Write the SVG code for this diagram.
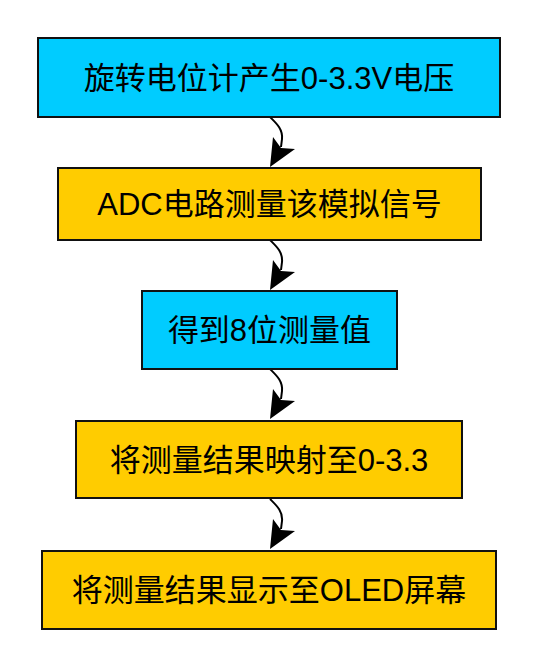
<svg xmlns="http://www.w3.org/2000/svg" width="540" height="669" viewBox="0 0 540 669">
<style>
.box{stroke:#111;stroke-width:2}
.cyan{fill:#00CCFF}
.orange{fill:#FFCC00}
.lbl{font-family:"Liberation Sans","Noto Sans CJK SC",sans-serif;font-size:31px;fill:#000;text-anchor:middle}
.wire{fill:none;stroke:#000;stroke-width:2}
.head{fill:#000}
</style>
<defs>
<g id="arrow">
<path class="wire" d="M0,0 C6,6 13,12 12,22 L11,30"/>
<polygon class="head" points="0,50 3,20 11,31 25,32"/>
</g>
</defs>
<rect width="540" height="669" fill="#fff"/>
<g id="connectors">
<use href="#arrow" x="270" y="117"/>
<use href="#arrow" x="270" y="240"/>
<use href="#arrow" x="270" y="369"/>
<use href="#arrow" x="270" y="499"/>
</g>
<g id="n1"><rect class="box cyan" x="38" y="38" width="462" height="79"/><text class="lbl" x="269" y="88.5">旋转电位计产生0-3.3V电压</text></g>
<g id="n2"><rect class="box orange" x="58" y="168" width="423" height="72"/><text class="lbl" x="269.5" y="215">ADC电路测量该模拟信号</text></g>
<g id="n3"><rect class="box cyan" x="142" y="291" width="255" height="78"/><text class="lbl" x="269.5" y="341">得到8位测量值</text></g>
<g id="n4"><rect class="box orange" x="76" y="421" width="386" height="77"/><text class="lbl" x="269" y="470.5">将测量结果映射至0-3.3</text></g>
<g id="n5"><rect class="box orange" x="42" y="551" width="454" height="78"/><text class="lbl" x="269" y="601">将测量结果显示至OLED屏幕</text></g>
</svg>
